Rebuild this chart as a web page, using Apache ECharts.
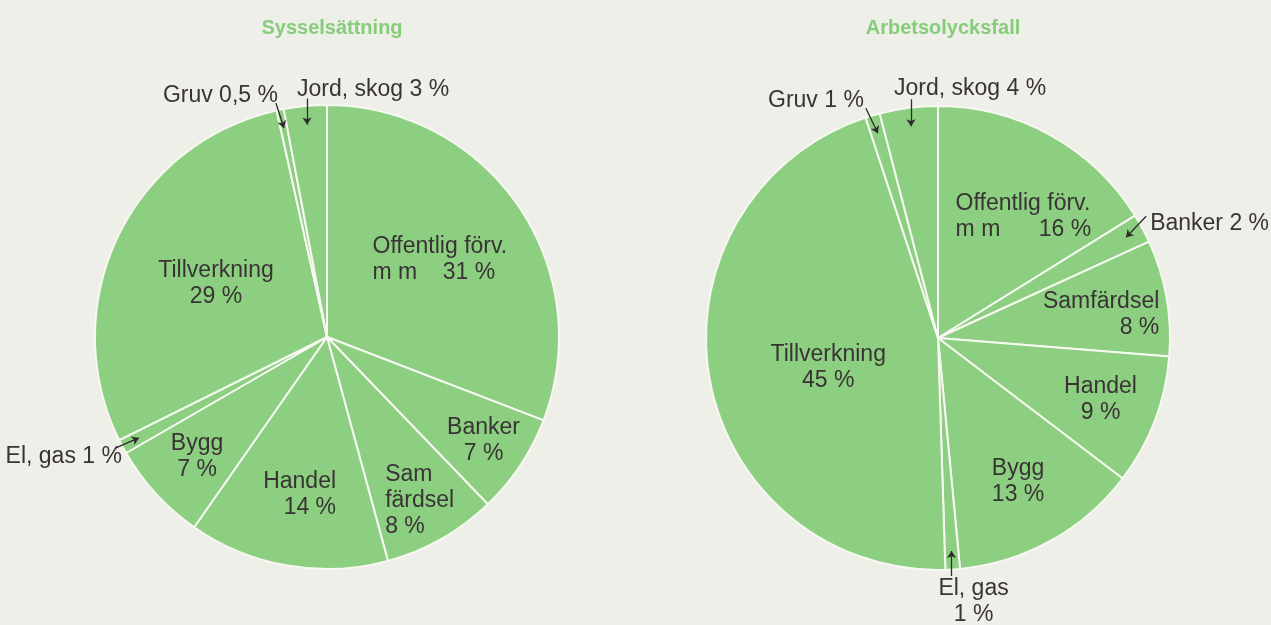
<!DOCTYPE html>
<html>
<head>
<meta charset="utf-8">
<title>Sysselsättning och arbetsolycksfall</title>
<script src="https://cdn.jsdelivr.net/npm/echarts@6/dist/echarts.min.js"></script>
<style>
  html, body { margin: 0; padding: 0; background: #efefe9; }
  #chart { width: 1271px; height: 625px; }
</style>
</head>
<body>
<div id="chart"></div>
<script>
// sektorer, medsols från klockan 12
const sectors = ['Offentlig förv. m m', 'Banker', 'Samfärdsel', 'Handel', 'Bygg', 'El, gas', 'Tillverkning', 'Gruv', 'Jord, skog'];
const employment = [31, 7, 8, 14, 7, 1, 29, 0.5, 3];
const accidents = [16, 2, 8, 9, 13, 1, 45, 1, 4];
const employmentLabels = ['Offentlig förv.\nm m    31 %', 'Banker\n7 %', 'Sam\nfärdsel\n8 %', 'Handel\n14 %', 'Bygg\n7 %', 'El, gas 1 %', 'Tillverkning\n29 %', 'Gruv 0,5 %', 'Jord, skog 3 %'];
const accidentLabels = ['Offentlig förv.\nm m      16 %', 'Banker 2 %', 'Samfärdsel\n8 %', 'Handel\n9 %', 'Bygg\n13 %', 'El, gas\n1 %', 'Tillverkning\n45 %', 'Gruv 1 %', 'Jord, skog 4 %'];
const titles = ['Sysselsättning', 'Arbetsolycksfall'];

const GREEN = '#8dcf80';
const TEXT = '#3a3335';
const RADIUS = 232;
const TIP = 0.92; // pilspets, andel av radien

// etikettplacering: r = andel av radien längs sektorns mittvinkel,
// arrow = pil från etikett in i sektorn
const pies = [
  {
    center: [327, 337], values: employment, labels: employmentLabels,
    place: [
      { r: 0.59, align: 'left' },
      { r: 0.81 },
      { r: 0.81, align: 'left' },
      { r: 0.69, align: 'right' },
      { r: 0.76 },
      { arrow: [-23, 10], text: [6, 9], align: 'right' },
      { r: 0.53 },
      { arrow: [-8, -25], text: [2, -7], align: 'right' },
      { arrow: [0, -26], text: [-10, -9], align: 'left' }
    ]
  },
  {
    center: [938, 338], values: accidents, labels: accidentLabels,
    place: [
      { r: 0.64, da: 6, align: 'left' },
      { arrow: [20, -21], text: [4, 7], align: 'left' },
      { r: 0.71, da: 2, align: 'right' },
      { r: 0.75 },
      { r: 0.71 },
      { arrow: [0, 25], text: [22, 26] },
      { r: 0.49, da: -5 },
      { arrow: [-12, -25], text: [-2, -8], align: 'right' },
      { arrow: [0, -27], text: [-17, -11], align: 'left' }
    ]
  }
];

function polar(c, r, deg) {
  const a = deg * Math.PI / 180;
  return [c[0] + r * Math.sin(a), c[1] - r * Math.cos(a)];
}

function midAngle(values, i) {
  const total = values.reduce((s, v) => s + v, 0);
  let before = 0;
  for (let k = 0; k < i; k++) before += values[k];
  return 360 * (before + values[i] / 2) / total;
}

function arrowData(pie) {
  const out = [];
  pie.place.forEach((p, i) => {
    if (!p.arrow) return;
    const tip = polar(pie.center, RADIUS * TIP, midAngle(pie.values, i));
    out.push({ coords: [[tip[0] + p.arrow[0], tip[1] + p.arrow[1]], tip] });
  });
  return out;
}

function pieSeries(pie) {
  return {
    type: 'pie',
    center: pie.center,
    radius: RADIUS,
    startAngle: 90,
    clockwise: true,
    avoidLabelOverlap: false,
    silent: true,
    data: sectors.map((name, i) => ({ name: name, value: pie.values[i] })),
    itemStyle: { color: GREEN, borderColor: '#f6f8f1', borderWidth: 2 },
    label: {
      show: true,
      position: 'inside',
      formatter: p => pie.labels[p.dataIndex],
      color: TEXT,
      fontFamily: 'Liberation Sans',
      fontSize: 23,
      lineHeight: 26
    },
    labelLine: { show: false },
    labelLayout: function (params) {
      const p = pie.place[params.dataIndex];
      const ang = midAngle(pie.values, params.dataIndex);
      const align = p.align || 'center';
      const w = params.labelRect.width;
      let x, y;
      if (p.arrow) {
        const tip = polar(pie.center, RADIUS * TIP, ang);
        x = tip[0] + p.arrow[0] + p.text[0];
        y = tip[1] + p.arrow[1] + p.text[1];
      } else {
        const c = polar(pie.center, RADIUS * p.r, ang + (p.da || 0));
        x = c[0] + (align === 'left' ? -w / 2 : align === 'right' ? w / 2 : 0);
        y = c[1];
      }
      return { x: x, y: y, align: align, verticalAlign: 'middle' };
    }
  };
}

const chart = echarts.init(document.getElementById('chart'));
chart.setOption({
  backgroundColor: '#efefe9',
  animation: false,
  title: titles.map((t, i) => ({
    text: t,
    left: pies[i].center[0],
    top: 13,
    textAlign: 'center',
    textStyle: { color: '#86cd7a', fontFamily: 'Liberation Sans', fontWeight: 'bold', fontSize: 20 }
  })),
  // osynligt rutnät i pixelskala för pilarna
  grid: { left: 0, right: 0, top: 0, bottom: 0 },
  xAxis: { type: 'value', min: 0, max: 1271, show: false },
  yAxis: { type: 'value', min: 0, max: 625, inverse: true, show: false },
  series: [
    pieSeries(pies[0]),
    pieSeries(pies[1]),
    {
      type: 'lines',
      coordinateSystem: 'cartesian2d',
      silent: true,
      z: 10,
      symbol: ['none', 'arrow'],
      symbolSize: 7,
      lineStyle: { color: '#2f2a2c', width: 1.3, opacity: 1 },
      data: arrowData(pies[0]).concat(arrowData(pies[1]))
    }
  ]
});
</script>
</body>
</html>
